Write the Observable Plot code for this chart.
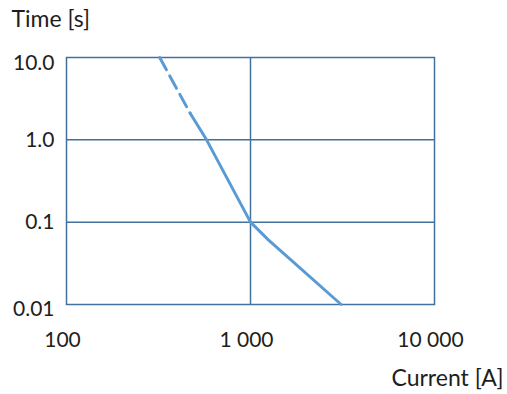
<!DOCTYPE html>
<html>
<head>
<meta charset="utf-8">
<script src="https://cdn.jsdelivr.net/npm/d3@7"></script>
<script src="https://cdn.jsdelivr.net/npm/@observablehq/plot@0.6"></script>
<style>
  html, body { margin: 0; padding: 0; background: #fff; }
</style>
</head>
<body>
<div id="chart"></div>
<script>
// Data
const dashedCurrent = [321, 470];
const dashedTime = [10, 2.1];
const solidCurrent = [470, 577, 1000, 1250, 3110];
const solidTime = [2.1, 1, 0.1, 0.061, 0.01];

const xTicks = [100, 1000, 10000];
const yTicksMid = [0.1, 1];
const yTickTop = [10];
const yTickBottom = [0.01];
const yTickLabels = new Map([[10, "10.0"], [1, "1.0"], [0.1, "0.1"], [0.01, "0.01"]]);
const xGrid = [1000];
const yGrid = [0.1, 1];

const xTitle = "Current [A]";
const yTitle = "Time [s]";

const dashed = dashedCurrent.map((c, i) => ({current: c, time: dashedTime[i]}));
const solid = solidCurrent.map((c, i) => ({current: c, time: solidTime[i]}));

const fmt = d3.formatLocale({decimal: ".", thousands: " ", grouping: [3], currency: ["", ""]}).format(",");

const gridColor = "#41719c";
const lineColor = "#5b9bd5";
const textColor = "#1e1e1e";
const font = "Lato, 'Open Sans', sans-serif";
const fs = 21;
const fsTitle = 23;

const chart = Plot.plot({
  width: 507,
  height: 394,
  marginLeft: 66,
  marginRight: 73,
  marginTop: 57,
  marginBottom: 90,
  style: {fontFamily: font, color: textColor, background: "#fff"},
  x: {type: "log", domain: [100, 10000]},
  y: {type: "log", domain: [0.01, 10]},
  marks: [
    Plot.gridX(xGrid, {stroke: gridColor, strokeOpacity: 1, strokeWidth: 1.5}),
    Plot.gridY(yGrid, {stroke: gridColor, strokeOpacity: 1, strokeWidth: 1.5}),
    Plot.frame({stroke: gridColor, strokeWidth: 1.5}),
    Plot.line(dashed, {x: "current", y: "time", stroke: lineColor, strokeWidth: 3, strokeDasharray: "14,7"}),
    Plot.line(solid, {x: "current", y: "time", stroke: lineColor, strokeWidth: 3, strokeLinejoin: "round"}),
    Plot.axisX(xTicks, {tickSize: 0, tickPadding: 28, tickFormat: fmt, fontSize: fs, label: null, dx: -4, fill: textColor}),
    Plot.axisY(yTicksMid, {tickSize: 0, tickPadding: 12, tickFormat: d => yTickLabels.get(d), fontSize: fs, label: null, fill: textColor}),
    Plot.axisY(yTickTop, {tickSize: 0, tickPadding: 12, tickFormat: d => yTickLabels.get(d), fontSize: fs, label: null, dy: 6, fill: textColor}),
    Plot.axisY(yTickBottom, {tickSize: 0, tickPadding: 12, tickFormat: d => yTickLabels.get(d), fontSize: fs, label: null, dy: 5, fill: textColor}),
    Plot.text([yTitle], {frameAnchor: "top-left", text: d => d, dx: -55, dy: -38, textAnchor: "start", lineAnchor: "middle", fontSize: fsTitle, fill: textColor}),
    Plot.text([xTitle], {frameAnchor: "bottom-right", text: d => d, dx: 69, dy: 74, textAnchor: "end", lineAnchor: "middle", fontSize: fsTitle, fill: textColor})
  ]
});
document.getElementById("chart").appendChild(chart);
</script>
</body>
</html>
